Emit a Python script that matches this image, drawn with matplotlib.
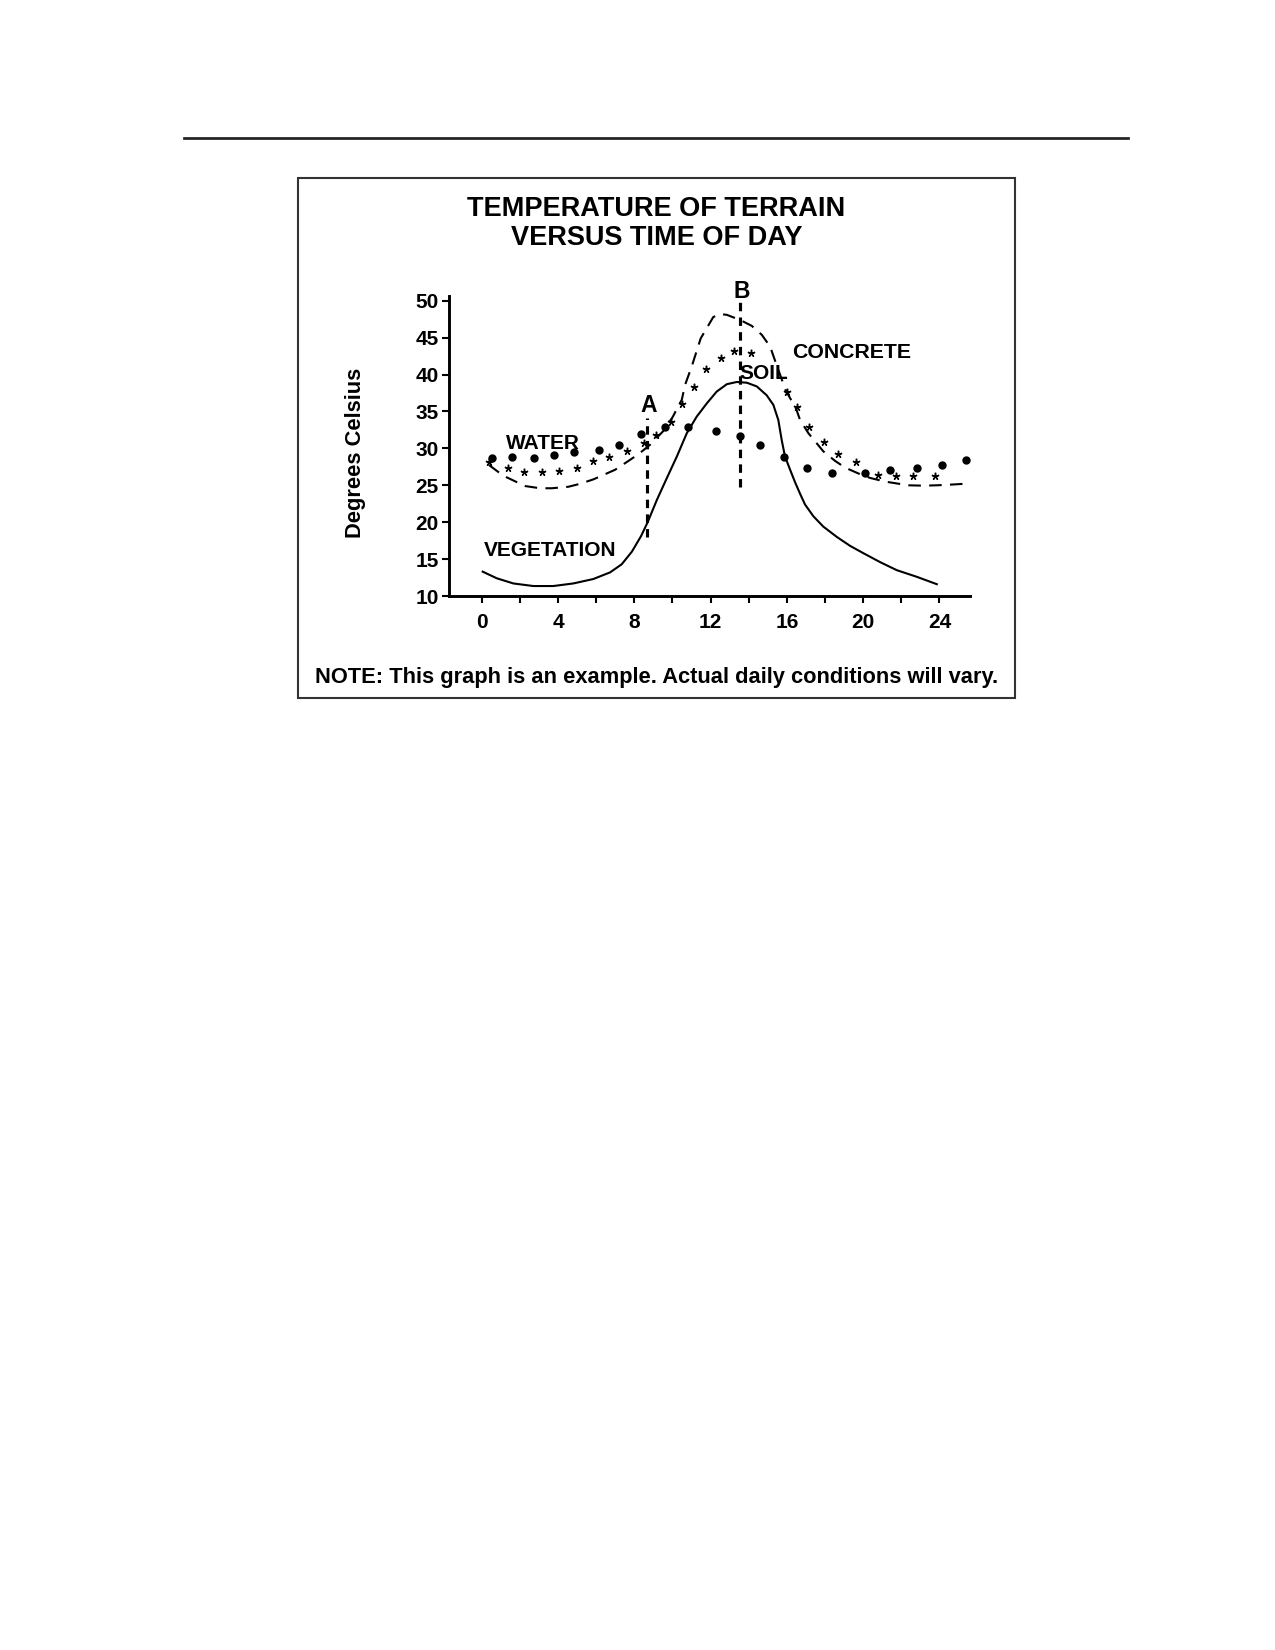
import matplotlib
matplotlib.use("Agg")
import matplotlib.pyplot as plt
from matplotlib.lines import Line2D
from matplotlib.patches import Rectangle

plt.rcParams["font.family"] = ["Liberation Sans", "DejaVu Sans"]
plt.rcParams["font.weight"] = "bold"

# --- data (hours, degrees C) ---
water_t = [0.56, 1.57, 2.74, 3.79, 4.86, 6.15, 7.22, 8.35, 9.61, 10.83, 12.27,
           13.55, 14.61, 15.87, 17.07, 18.38, 20.1, 21.43, 22.81, 24.15, 25.41]
water_v = [28.7, 28.8, 28.7, 29.1, 29.5, 29.8, 30.4, 31.9, 32.9, 32.9, 32.4,
           31.7, 30.4, 28.8, 27.4, 26.7, 26.7, 27.1, 27.3, 27.8, 28.4]

soil_t = [0.38, 1.4, 2.22, 3.18, 4.07, 4.98, 5.85, 6.69, 7.64, 8.53, 9.14, 9.93,
          10.52, 11.13, 11.76, 12.55, 13.25, 14.1, 16.03, 16.52, 17.18, 17.95,
          18.7, 19.63, 20.8, 21.73, 22.63, 23.77]
soil_v = [28.1, 27.3, 26.8, 26.8, 26.9, 27.3, 28.3, 28.9, 29.6, 30.7, 31.8, 33.6,
          36.0, 38.3, 40.7, 42.2, 43.2, 42.9, 37.7, 35.6, 32.9, 30.8,
          29.2, 28.1, 26.4, 26.2, 26.3, 26.3]

concrete_t = [0.38, 1.13, 2.27, 3.06, 3.67, 4.54, 5.15, 5.85, 6.99, 7.69, 8.21,
              8.83, 9.5, 10.0, 10.49, 10.66, 11.01, 11.48, 12.14, 12.5, 12.85,
              13.55, 14.16, 14.68, 15.12, 15.5, 15.95, 16.48, 16.69, 17.13,
              17.91, 18.53, 19.05, 19.75, 20.36, 21.15, 22.37, 23.16, 23.86,
              24.65, 25.29]
concrete_v = [27.75, 26.3, 24.9, 24.6, 24.6, 24.8, 25.2, 25.8, 27.1, 28.3, 29.2,
              30.5, 32.3, 34.2, 36.6, 38.6, 41.1, 44.9, 47.8, 48.2, 48.1,
              47.4, 46.6, 45.4, 43.8, 41.0, 37.8, 35.4, 33.85, 32.05,
              29.6, 28.3, 27.4, 26.6, 26.0, 25.5, 25.0, 24.95, 25.0,
              25.1, 25.2]

veg_t = [0.05, 0.79, 1.66, 2.71, 3.75, 4.8, 5.85, 6.73, 7.34, 7.87, 8.35, 8.7,
         9.18, 9.7, 10.23, 10.75, 11.27, 11.8, 12.32, 12.85, 13.37, 13.9, 14.42,
         14.94, 15.29, 15.55, 15.73, 15.9, 16.17, 16.43, 16.7, 16.95, 17.39,
         17.91, 18.62, 19.31, 20.01, 20.88, 21.76, 22.81, 23.86]
veg_v = [13.3, 12.4, 11.7, 11.35, 11.35, 11.7, 12.3, 13.2, 14.3, 16.0, 18.1, 20.0,
         23.0, 25.95, 28.9, 32.05, 34.3, 36.1, 37.7, 38.7, 39.0, 38.9, 38.4,
         37.2, 35.9, 33.85, 31.1, 28.9, 27.1, 25.4, 23.8, 22.4, 20.8,
         19.4, 18.0, 16.8, 15.8, 14.6, 13.5, 12.6, 11.6]

# reference lines A and B: time, low, high
ref_names = ["A", "B"]
ref_t = [8.68, 13.55]
ref_low = [18.0, 24.8]
ref_high = [34.1, 49.9]

major_x = [0, 4, 8, 12, 16, 20, 24]
minor_x = [2, 6, 10, 14, 18, 22]
y_ticks = [10, 15, 20, 25, 30, 35, 40, 45, 50]

W, H = 1275, 1650
fig = plt.figure(figsize=(8.5, 11), dpi=150)

def fx(px):
    return px / W

def fy(py):
    return 1 - py / H

# page rule and frame
fig.add_artist(Line2D([fx(184), fx(1128)], [fy(137.5), fy(137.5)],
                      color="#222222", lw=1.3))
fig.add_artist(Rectangle((fx(297.7), fy(698.3)), fx(1015) - fx(297.7),
                         fy(177.7) - fy(698.3), fill=False,
                         edgecolor="#333333", lw=1.0))

fig.text(0.5149, fy(216), "TEMPERATURE OF TERRAIN", ha="center", va="baseline",
         fontsize=13, fontweight="bold")
fig.text(0.5149, fy(245), "VERSUS TIME OF DAY", ha="center", va="baseline",
         fontsize=13, fontweight="bold")
fig.text(0.5149, fy(683.3),
         "NOTE: This graph is an example. Actual daily conditions will vary.",
         ha="center", va="baseline", fontsize=10.5, fontweight="bold")

ax = fig.add_axes([fx(449.3), fy(596), fx(970) - fx(449.3), fy(296) - fy(596)])
ax.set_xlim(-1.7, 25.6)
ax.set_ylim(10, 50.65)
for s in ["top", "right"]:
    ax.spines[s].set_visible(False)
for s in ["left", "bottom"]:
    ax.spines[s].set_linewidth(1.4)

ax.set_xticks(major_x)
ax.set_xticks(minor_x, minor=True)
ax.set_yticks(y_ticks)
ax.tick_params(axis="both", which="both", direction="out", length=3.5,
               width=1.0, labelsize=10)
ax.tick_params(axis="x", pad=4.6)
ax.tick_params(axis="y", pad=1.5)
for lab in ax.get_xticklabels() + ax.get_yticklabels():
    lab.set_fontweight("bold")

ax.text(-0.18, 0.478, "Degrees Celsius", transform=ax.transAxes, rotation=90,
        ha="center", va="center", fontsize=10.5, fontweight="bold")

ax.plot(veg_t, veg_v, color="black", lw=1.0, solid_joinstyle="round")
ax.plot(concrete_t, concrete_v, color="black", lw=1.0, dashes=(6, 4))
ax.plot(water_t, water_v, "o", color="black", markersize=3.0)
ax.plot(soil_t, soil_v, linestyle="none", marker=(5, 2, 0), color="black",
        markersize=3.6, markeredgewidth=0.7)

for name, t, lo, hi in zip(ref_names, ref_t, ref_low, ref_high):
    ax.plot([t, t], [lo, hi], color="black", lw=1.5, dashes=(2.7, 2.0))
    ax.text(t + 0.07, hi + (0.87 if name == "A" else 0.44), name,
            ha="center", va="baseline", fontsize=11, fontweight="bold")

ax.text(3.2, 29.88, "WATER", ha="center", va="baseline", fontsize=10, fontweight="bold")
ax.text(3.6, 15.42, "VEGETATION", ha="center", va="baseline", fontsize=10, fontweight="bold")
ax.text(14.77, 39.36, "SOIL", ha="center", va="baseline", fontsize=10, fontweight="bold")
ax.text(19.4, 42.29, "CONCRETE", ha="center", va="baseline", fontsize=10.2, fontweight="bold")

fig.savefig("out.png", dpi=150)
